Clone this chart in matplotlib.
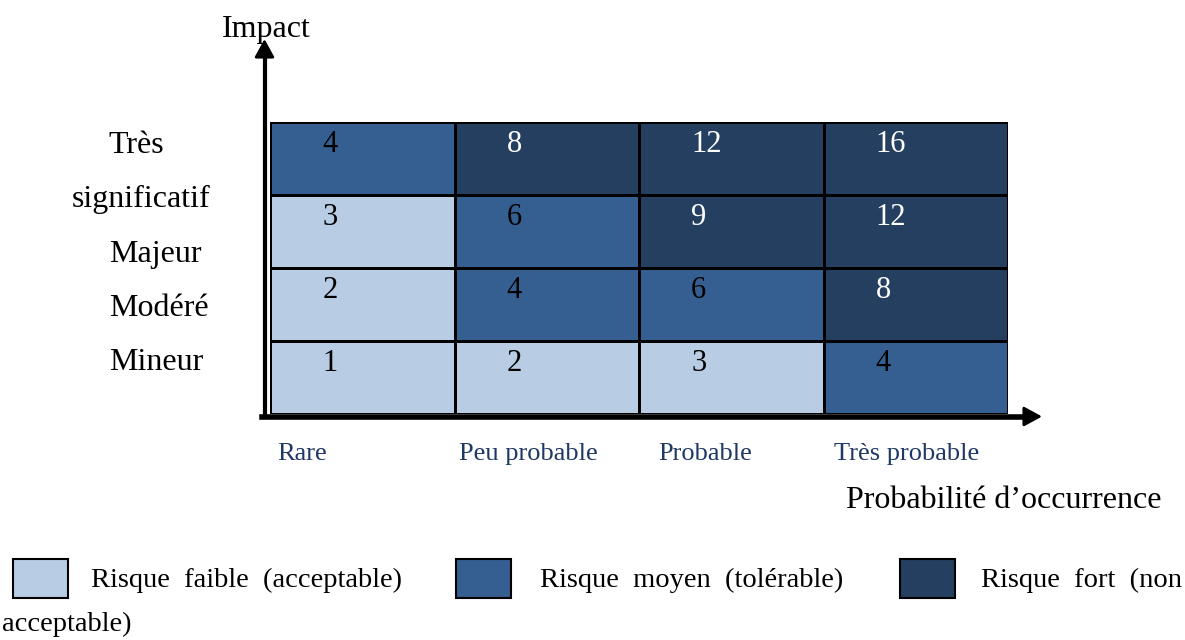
import numpy as np
import matplotlib.pyplot as plt
from matplotlib.colors import ListedColormap
from matplotlib.patches import Rectangle

plt.rcParams['font.family'] = ['Liberation Serif', 'DejaVu Serif']

# matrice des risques : lignes de bas (Mineur) en haut (Très significatif)
probabilites = ['Rare', 'Peu probable', 'Probable', 'Très probable']
impacts = ['Mineur', 'Modéré', 'Majeur', 'Très significatif']
scores = [
    [1, 2, 3, 4],
    [2, 4, 6, 8],
    [3, 6, 9, 12],
    [4, 8, 12, 16],
]
# 0 = faible, 1 = moyen, 2 = fort
niveaux = [
    [0, 0, 0, 1],
    [0, 1, 1, 2],
    [0, 1, 2, 2],
    [1, 2, 2, 2],
]
legende = ['Risque  faible  (acceptable)', 'Risque  moyen  (tolérable)', 'Risque  fort  (non']
couleurs = ['#b8cce4', '#365f91', '#243f60']

W, H = 1185, 640
FS = 23
fig = plt.figure(figsize=(W / 100, H / 100), dpi=100)


def fx(x):
    return x / W


def fy(y):
    return 1 - y / H


ax = fig.add_axes([fx(270), fy(414), fx(738), 292 / H])
cmap = ListedColormap(couleurs)
ax.pcolormesh(np.arange(5), np.arange(5), np.array(niveaux), cmap=cmap,
              vmin=-0.5, vmax=2.5, edgecolors='black', linewidth=1.8)
ax.set_xlim(0, 4)
ax.set_ylim(0, 4)
ax.axis('off')

for i in range(4):
    for j in range(4):
        c = 'white' if niveaux[i][j] == 2 else 'black'
        ax.text(j + 0.283, i + 0.59, str(scores[i][j]), ha='left', va='baseline',
                fontsize=22, color=c)

# axes avec flèches
arrow = dict(arrowstyle='-|>,head_length=0.55,head_width=0.3', color='black',
             mutation_scale=20, shrinkA=0, shrinkB=0)
fig.add_artist(plt.Line2D([fx(264.5)] * 2, [fy(417), fy(50)], color='black', lw=3))
ax.annotate('', xy=(fx(264.5), fy(39)), xytext=(fx(264.5), fy(60)),
            xycoords='figure fraction', textcoords='figure fraction',
            arrowprops=dict(arrow, lw=2))
fig.add_artist(plt.Line2D([fx(262), fx(1030)], [fy(416.5)] * 2, color='black', lw=4))
ax.annotate('', xy=(fx(1042), fy(416.5)), xytext=(fx(1020), fy(416.5)),
            xycoords='figure fraction', textcoords='figure fraction',
            arrowprops=dict(arrow, lw=2))

fig.text(fx(222), fy(37), 'Impact', fontsize=FS, va='baseline')
fig.text(fx(846), fy(508), 'Probabilité d’occurrence', fontsize=FS, va='baseline')

# libellés d'impact
fig.text(fx(108), fy(153), 'Très', fontsize=FS, va='baseline')
fig.text(fx(72), fy(207), 'significatif', fontsize=FS, va='baseline')
for lab, y in zip(impacts[2::-1], [262, 316, 370]):
    fig.text(fx(109), fy(y), lab, fontsize=FS, va='baseline')

# libellés de probabilité
for lab, x in zip(probabilites, [277, 459, 658, 834]):
    fig.text(fx(x), fy(460), lab, fontsize=19, va='baseline', color='#1f3864')

# légende
for lab, c, bx, tx in zip(legende, couleurs, [13, 456, 900], [91, 540, 981]):
    fig.add_artist(Rectangle((fx(bx), fy(598)), fx(55), 39 / H, facecolor=c,
                             edgecolor='black', lw=1.5, transform=fig.transFigure))
    fig.text(fx(tx), fy(587), lab, fontsize=20.5, va='baseline')
fig.text(fx(2), fy(631), 'acceptable)', fontsize=20.5, va='baseline')

fig.savefig('out.png', dpi=100)
